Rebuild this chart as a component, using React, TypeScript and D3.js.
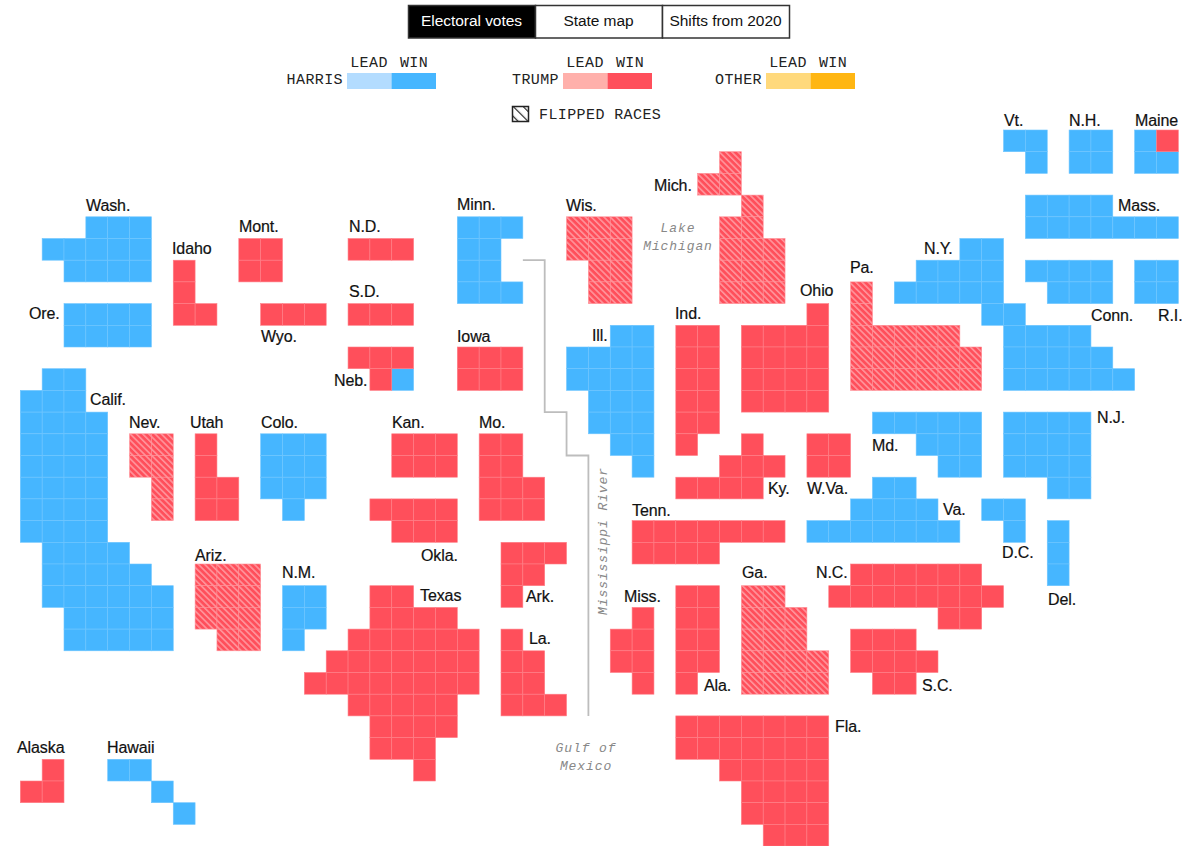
import { useEffect, useRef } from 'react';
import * as d3 from 'd3';

const HARRIS = '#46b6ff';
const TRUMP = '#ff4f5b';

// each row of a state: [grid row, first column, number of cells]
type Span = [number, number, number];

const harrisStates: [string, Span[]][] = [
  ['Vt.', [[0, 45, 2], [1, 46, 1]]],
  ['N.H.', [[0, 48, 2], [1, 48, 2]]],
  ['Maine', [[0, 51, 1], [1, 51, 2]]],
  ['Mass.', [[3, 46, 4], [4, 46, 7]]],
  ['N.Y.', [[5, 43, 2], [6, 41, 4], [7, 40, 5], [8, 44, 2], [9, 45, 4], [10, 45, 5], [11, 45, 6]]],
  ['Conn.', [[6, 46, 4], [7, 47, 3]]],
  ['R.I.', [[6, 51, 2], [7, 51, 2]]],
  ['N.J.', [[13, 45, 4], [14, 45, 4], [15, 45, 4], [16, 47, 2]]],
  ['Md.', [[13, 39, 5], [14, 41, 3], [15, 42, 2]]],
  ['Va.', [[16, 39, 2], [17, 38, 4], [18, 36, 7]]],
  ['D.C.', [[17, 44, 2], [18, 45, 1]]],
  ['Del.', [[18, 47, 1], [19, 47, 1], [20, 47, 1]]],
  ['Ill.', [[9, 27, 2], [10, 25, 4], [11, 25, 4], [12, 26, 3], [13, 26, 3], [14, 27, 2], [15, 28, 1]]],
  ['Minn.', [[4, 20, 3], [5, 20, 2], [6, 20, 2], [7, 20, 3]]],
  ['Neb. 2', [[11, 17, 1]]],
  ['Wash.', [[4, 3, 3], [5, 1, 5], [6, 2, 4]]],
  ['Ore.', [[8, 2, 4], [9, 2, 4]]],
  ['Calif.', [[11, 1, 2], [12, 0, 3], [13, 0, 4], [14, 0, 4], [15, 0, 4], [16, 0, 4], [17, 0, 4], [18, 0, 4], [19, 1, 4], [20, 1, 5], [21, 1, 6], [22, 2, 5], [23, 2, 5]]],
  ['Colo.', [[14, 11, 3], [15, 11, 3], [16, 11, 3], [17, 12, 1]]],
  ['N.M.', [[21, 12, 2], [22, 12, 2], [23, 12, 1]]],
  ['Hawaii', [[29, 4, 2], [30, 6, 1], [31, 7, 1]]],
];

const trumpStates: [string, Span[]][] = [
  ['Maine 2', [[0, 52, 1]]],
  ['W.Va.', [[14, 36, 2], [15, 36, 2]]],
  ['N.C.', [[20, 38, 6], [21, 37, 8], [22, 42, 2]]],
  ['S.C.', [[23, 38, 3], [24, 38, 4], [25, 39, 2]]],
  ['Ala.', [[21, 30, 2], [22, 30, 2], [23, 30, 2], [24, 30, 2], [25, 30, 1]]],
  ['Miss.', [[22, 28, 1], [23, 27, 2], [24, 27, 2], [25, 28, 1]]],
  ['Tenn.', [[18, 28, 7], [19, 28, 4]]],
  ['Ky.', [[14, 33, 1], [15, 32, 3], [16, 30, 4]]],
  ['Ind.', [[9, 30, 2], [10, 30, 2], [11, 30, 2], [12, 30, 2], [13, 30, 2], [14, 30, 1]]],
  ['Ohio', [[8, 36, 1], [9, 33, 4], [10, 33, 4], [11, 33, 4], [12, 33, 4]]],
  ['Iowa', [[10, 20, 3], [11, 20, 3]]],
  ['N.D.', [[5, 15, 3]]],
  ['S.D.', [[8, 15, 3]]],
  ['Neb.', [[10, 15, 3], [11, 16, 1]]],
  ['Mont.', [[5, 10, 2], [6, 10, 2]]],
  ['Wyo.', [[8, 11, 3]]],
  ['Idaho', [[6, 7, 1], [7, 7, 1], [8, 7, 2]]],
  ['Utah', [[14, 8, 1], [15, 8, 1], [16, 8, 2], [17, 8, 2]]],
  ['Kan.', [[14, 17, 3], [15, 17, 3]]],
  ['Okla.', [[17, 16, 4], [18, 17, 3]]],
  ['Mo.', [[14, 21, 2], [15, 21, 2], [16, 21, 3], [17, 21, 3]]],
  ['Ark.', [[19, 22, 3], [20, 22, 2], [21, 22, 1]]],
  ['La.', [[23, 22, 1], [24, 22, 2], [25, 22, 2], [26, 22, 3]]],
  ['Texas', [[21, 16, 2], [22, 16, 4], [23, 15, 6], [24, 14, 7], [25, 13, 8], [26, 15, 5], [27, 16, 4], [28, 16, 3], [29, 18, 1]]],
  ['Fla.', [[27, 30, 7], [28, 30, 7], [29, 32, 5], [30, 33, 4], [31, 33, 4], [32, 34, 3]]],
  ['Alaska', [[29, 1, 1], [30, 0, 2]]],
];

const flippedStates: [string, Span[]][] = [
  ['Mich.', [[1, 32, 1], [2, 31, 2], [3, 33, 1], [4, 32, 2], [5, 32, 3], [6, 32, 3], [7, 32, 3]]],
  ['Wis.', [[4, 25, 3], [5, 25, 3], [6, 26, 2], [7, 26, 2]]],
  ['Pa.', [[7, 38, 1], [8, 38, 1], [9, 38, 5], [10, 38, 6], [11, 38, 6]]],
  ['Nev.', [[14, 5, 2], [15, 5, 2], [16, 6, 1], [17, 6, 1]]],
  ['Ariz.', [[20, 8, 3], [21, 8, 3], [22, 8, 3], [23, 9, 2]]],
  ['Ga.', [[21, 33, 2], [22, 33, 3], [23, 33, 3], [24, 33, 4], [25, 33, 4]]],
];

const tabNames = ['Electoral votes', 'State map', 'Shifts from 2020'];
const legendNames = ['HARRIS', 'TRUMP', 'OTHER'];
const legendColors = [
  ['#b3dcff', HARRIS],
  ['#ffb0ab', TRUMP],
  ['#ffd97c', '#ffb612'],
];

// where each state's name sits: [name, left, vertical centre]
const stateLabels: [string, number, number][] = [
  ['Vt.', 1004, 120], ['N.H.', 1069, 120], ['Maine', 1135, 120], ['Mass.', 1118, 205], ['N.Y.', 924, 248],
  ['Conn.', 1091, 315], ['R.I.', 1158, 315], ['N.J.', 1097, 417], ['Md.', 872, 445], ['Va.', 943, 509],
  ['D.C.', 1002, 552], ['Del.', 1048, 599], ['W.Va.', 807, 488], ['Ky.', 768, 488], ['S.C.', 922, 685],
  ['N.C.', 816, 572], ['Ga.', 742, 572], ['Tenn.', 632, 510], ['Miss.', 624, 596], ['Ala.', 704, 685],
  ['Fla.', 835, 726], ['Pa.', 850, 267], ['Ohio', 800, 290], ['Ind.', 675, 313], ['Mich.', 654, 185],
  ['Wis.', 566, 205], ['Minn.', 457, 204], ['Iowa', 457, 336], ['Ill.', 592, 335], ['Kan.', 392, 422],
  ['Mo.', 479, 422], ['Okla.', 421, 555], ['Texas', 420, 595], ['Ark.', 526, 596], ['La.', 529, 638],
  ['N.D.', 349, 226], ['S.D.', 349, 291], ['Neb.', 334, 380], ['Mont.', 239, 226], ['Idaho', 172, 248],
  ['Wyo.', 261, 336], ['Ore.', 29, 313], ['Calif.', 90, 399], ['Nev.', 129, 422], ['Utah', 190, 422],
  ['Colo.', 261, 422], ['Ariz.', 195, 555], ['N.M.', 282, 572], ['Alaska', 17, 747], ['Hawaii', 107, 747],
  ['Wash.', 86, 205],
];

const riverPath: [number, number][] = [[23, 6], [24, 6], [24, 13], [25, 13], [25, 15], [26, 15], [26, 27]];

const SANS = '"Liberation Sans", Arial, sans-serif';
const MONO = '"Liberation Mono", "DejaVu Sans Mono", monospace';

export default function App() {
  const svgRef = useRef<SVGSVGElement>(null);

  useEffect(() => {
    const svg = d3.select(svgRef.current);
    svg.selectAll('*').remove();

    const x = d3.scaleLinear().domain([0, 53]).range([20.3, 1178.35]);
    const y = d3.scaleLinear().domain([0, 33]).range([130, 846.1]);

    const defs = svg.append('defs');
    const hatch = defs
      .append('pattern')
      .attr('id', 'flipped')
      .attr('patternUnits', 'userSpaceOnUse')
      .attr('width', 4.4)
      .attr('height', 4.4)
      .attr('patternTransform', 'rotate(-45)');
    hatch.append('rect').attr('width', 4.4).attr('height', 4.4).attr('fill', TRUMP);
    hatch.append('rect').attr('width', 1.6).attr('height', 4.4).attr('fill', '#fff').attr('opacity', 0.4);

    const iconHatch = defs
      .append('pattern')
      .attr('id', 'iconHatch')
      .attr('patternUnits', 'userSpaceOnUse')
      .attr('width', 7)
      .attr('height', 7)
      .attr('patternTransform', 'rotate(-45)');
    iconHatch.append('rect').attr('width', 1.2).attr('height', 7).attr('fill', '#222');

    // Tabs
    const tabW = 127;
    tabNames.forEach((name, i) => {
      const tab = svg.append('g').attr('transform', `translate(${408 + i * tabW},5)`);
      tab
        .append('rect')
        .attr('x', 0.5)
        .attr('y', 0.5)
        .attr('width', tabW)
        .attr('height', 32.5)
        .attr('fill', i === 0 ? '#000' : '#fff')
        .attr('stroke', '#333')
        .attr('stroke-width', 1.5);
      tab
        .append('text')
        .attr('x', tabW / 2)
        .attr('y', 21)
        .attr('text-anchor', 'middle')
        .attr('fill', i === 0 ? '#fff' : '#111')
        .attr('letter-spacing', '-0.05')
        .style('font-family', SANS)
        .style('font-size', '15.5px')
        .text(name);
    });

    // Legend
    const legendX = [347, 563, 766];
    legendNames.forEach((name, i) => {
      const lx = legendX[i];
      svg
        .append('text')
        .attr('x', lx - 4)
        .attr('y', 84)
        .attr('text-anchor', 'end')
        .attr('fill', '#222')
        .attr('letter-spacing', '0.4')
        .style('font-family', MONO)
        .style('font-size', '15px')
        .text(name);
      ['LEAD', 'WIN'].forEach((word, j) => {
        svg
          .append('text')
          .attr('x', lx + 22 + j * 45)
          .attr('y', 67)
          .attr('text-anchor', 'middle')
          .attr('fill', '#222')
          .attr('letter-spacing', '0.4')
          .style('font-family', MONO)
          .style('font-size', '15px')
          .text(word);
        svg
          .append('rect')
          .attr('x', lx + j * 44.5)
          .attr('y', 73)
          .attr('width', 44.5)
          .attr('height', 16)
          .attr('fill', legendColors[i][j]);
      });
    });

    svg
      .append('rect')
      .attr('x', 512.5)
      .attr('y', 106.5)
      .attr('width', 16)
      .attr('height', 15)
      .attr('fill', 'url(#iconHatch)')
      .attr('stroke', '#222')
      .attr('stroke-width', 1.5);
    svg
      .append('text')
      .attr('x', 539)
      .attr('y', 119)
      .attr('fill', '#222')
      .attr('letter-spacing', '0.4')
      .style('font-family', MONO)
      .style('font-size', '15px')
      .text('FLIPPED RACES');

    // River
    const riverLine = d3
      .line<[number, number]>()
      .x((d) => x(d[0]))
      .y((d) => y(d[1]));
    svg
      .append('path')
      .attr('d', riverLine(riverPath))
      .attr('fill', 'none')
      .attr('stroke', '#bdbdbd')
      .attr('stroke-width', 1.8);

    // Cells
    const groups = [
      { states: harrisStates, fill: HARRIS, stroke: '#6fc6ff' },
      { states: trumpStates, fill: TRUMP, stroke: '#ff7f87' },
      { states: flippedStates, fill: 'url(#flipped)', stroke: '#ff8f96' },
    ];
    groups.forEach(({ states, fill, stroke }) => {
      const cells = states.flatMap(([name, spans]) =>
        spans.flatMap(([row, col, n]) => d3.range(n).map((i) => ({ name, row, col: col + i })))
      );
      svg
        .append('g')
        .selectAll('rect')
        .data(cells)
        .enter()
        .append('rect')
        .attr('x', (d) => x(d.col))
        .attr('y', (d) => y(d.row))
        .attr('width', x(1) - x(0))
        .attr('height', y(1) - y(0))
        .attr('fill', fill)
        .attr('stroke', stroke)
        .attr('stroke-width', 0.6);
    });

    // State names
    svg
      .append('g')
      .selectAll('text')
      .data(stateLabels)
      .enter()
      .append('text')
      .attr('x', (d) => d[1])
      .attr('y', (d) => d[2] + 5.5)
      .attr('fill', '#111')
      .attr('stroke', '#111')
      .attr('stroke-width', 0.2)
      .attr('letter-spacing', '-0.1')
      .style('font-family', SANS)
      .style('font-size', '16px')
      .text((d) => d[0]);

    // Water names
    const water = (lines: string[], cx: number, top: number) => {
      lines.forEach((line, i) => {
        svg
          .append('text')
          .attr('x', cx)
          .attr('y', top + i * 18)
          .attr('text-anchor', 'middle')
          .attr('fill', '#888')
          .attr('letter-spacing', '0.9')
          .style('font-family', MONO)
          .style('font-style', 'italic')
          .style('font-size', '13px')
          .text(line);
      });
    };
    water(['Lake', 'Michigan'], 678, 232);
    water(['Gulf of', 'Mexico'], 586, 752);
    svg
      .append('text')
      .attr('transform', 'translate(607,541) rotate(-90)')
      .attr('text-anchor', 'middle')
      .attr('fill', '#888')
      .attr('letter-spacing', '0.9')
      .style('font-family', MONO)
      .style('font-style', 'italic')
      .style('font-size', '13px')
      .text('Mississippi River');
  }, []);

  return (
    <svg
      ref={svgRef}
      width={1202}
      height={846}
      style={{ position: 'absolute', left: 0, top: 0, display: 'block', background: '#fff' }}
    ></svg>
  );
}
